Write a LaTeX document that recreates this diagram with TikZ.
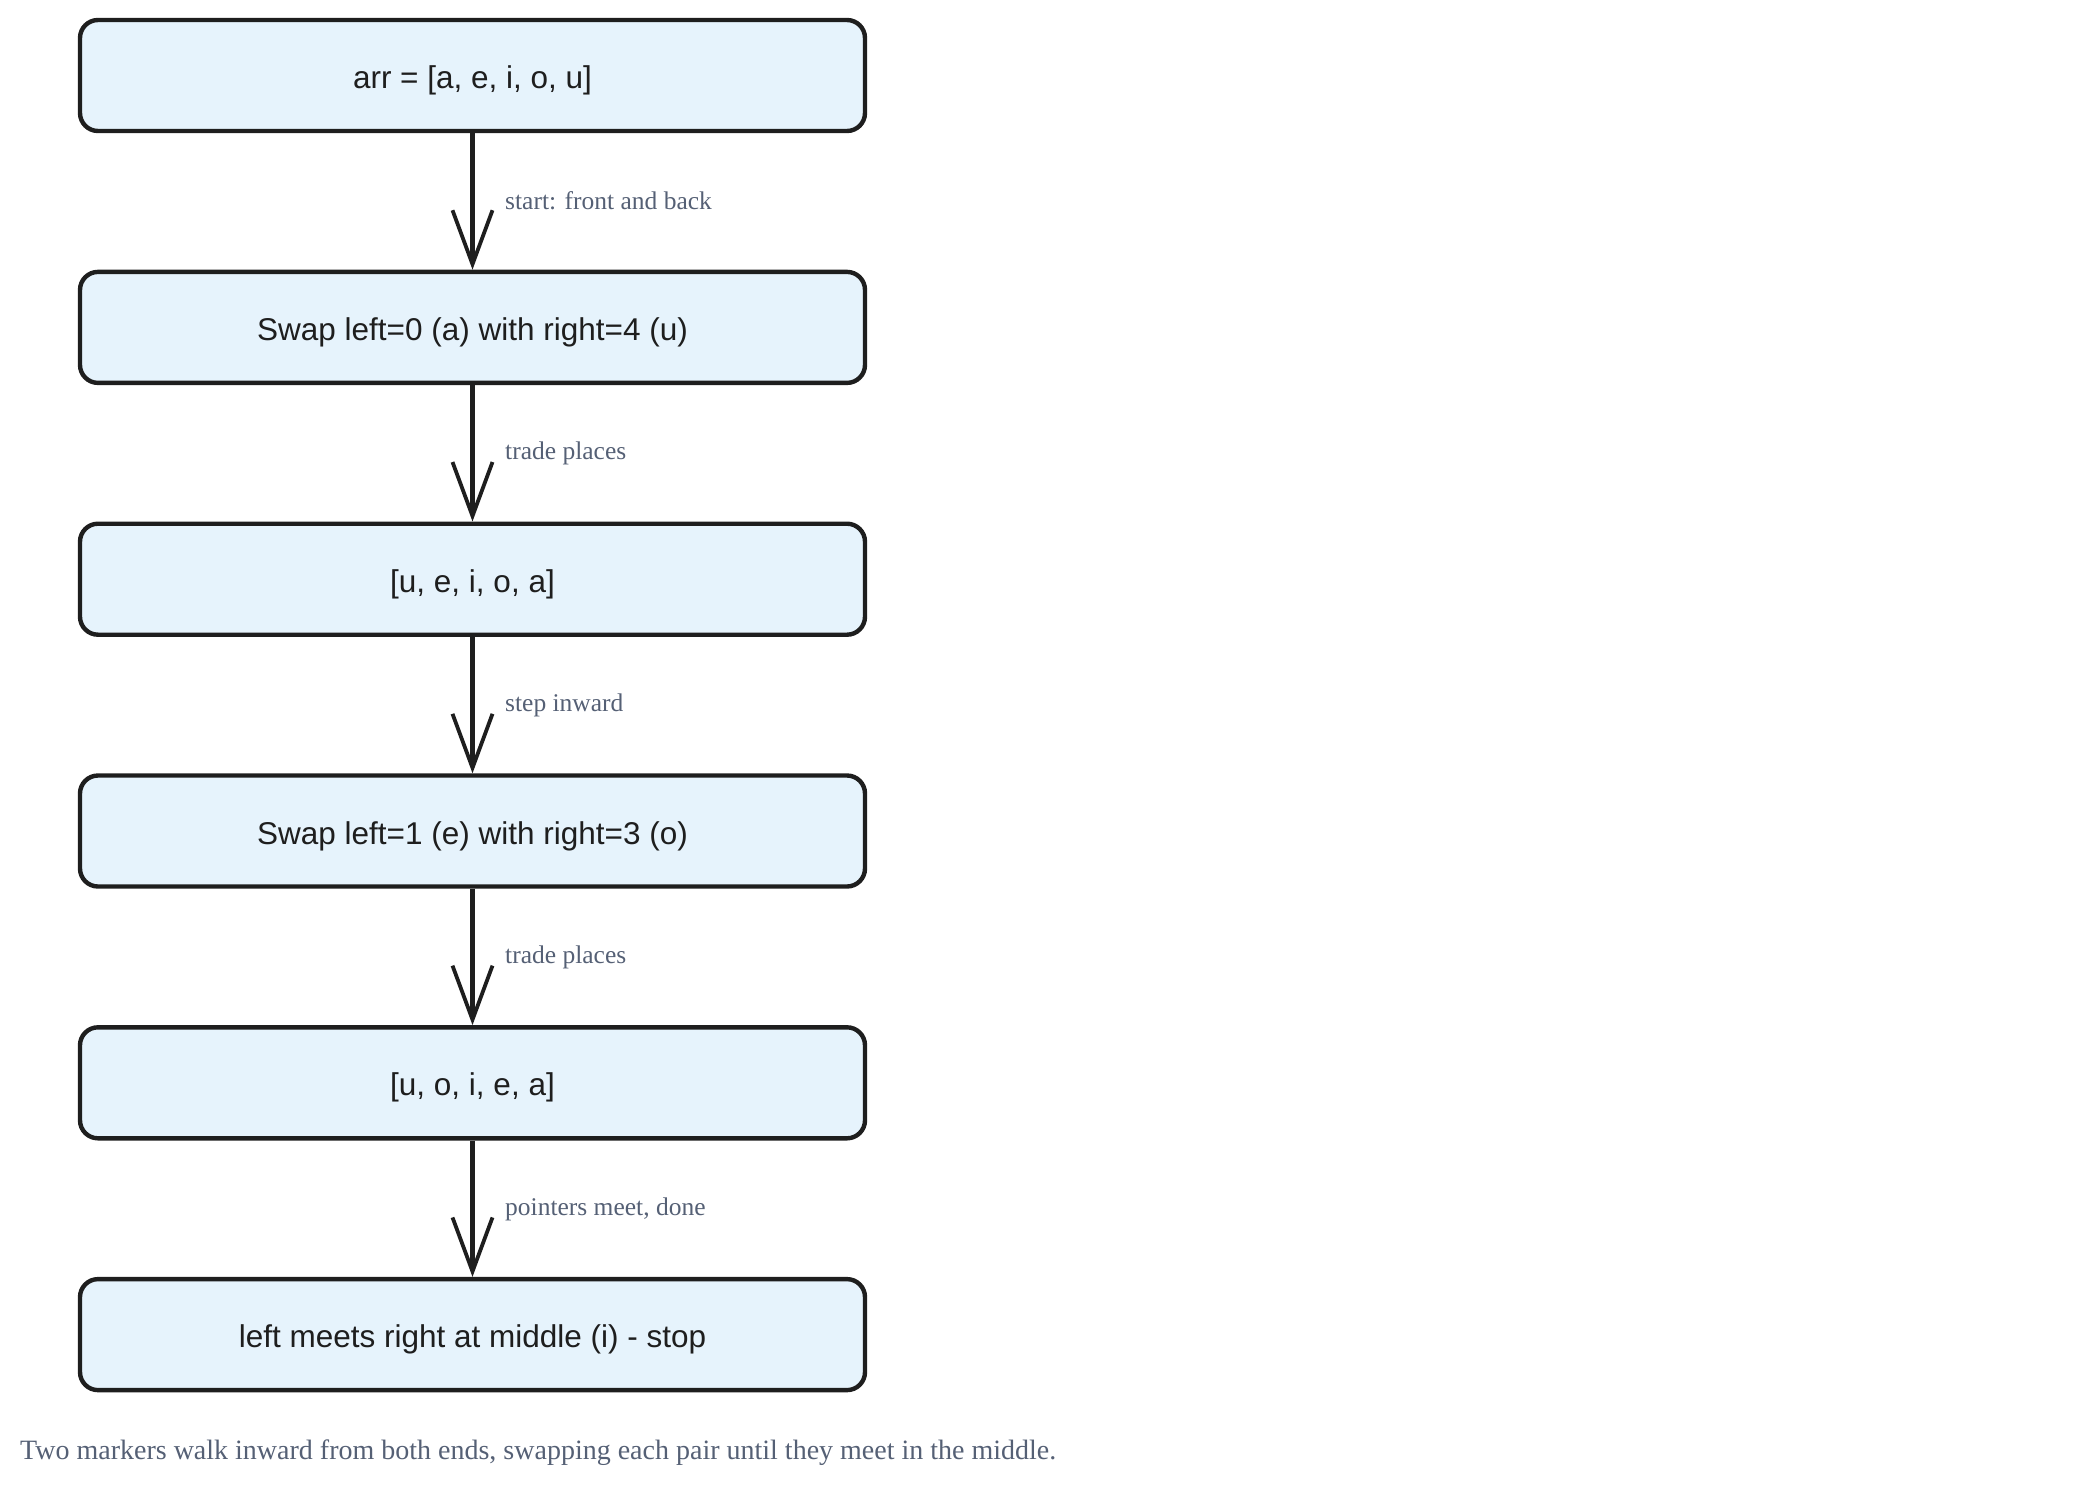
\documentclass[tikz,border=0pt]{standalone}
\usepackage{fontspec}
\setmainfont{Liberation Serif}
\newfontfamily\boxfont{Liberation Sans}
\usetikzlibrary{arrows.meta}
\definecolor{boxfill}{HTML}{E6F3FC}
\definecolor{inkc}{HTML}{1E1E1E}
\definecolor{labelc}{HTML}{556075}
\tikzset{
  stepbox/.style={draw=inkc, fill=boxfill, line width=4.4pt, rounded corners=18pt,
    minimum width=785pt, minimum height=111pt, inner sep=0pt,
    text height=26pt, text depth=0pt,
    font=\boxfont\fontsize{31.5}{36}\selectfont, text=inkc},
  flow/.style={draw=inkc, line width=4.2pt,
    -{Straight Barb[length=54pt,width=40pt,line width=3.8pt]}},
  elabel/.style={font=\fontsize{25.5}{30}\selectfont, text=labelc, anchor=west, inner sep=0pt}
}
\begin{document}
\begin{tikzpicture}[x=1pt,y=-1pt]
\useasboundingbox (0,0) rectangle (2078,1492);
\node[stepbox] (b1) at (472.5,75.5) {arr = [a, e, i, o, u]};
\node[stepbox] (b2) at (472.5,327.4) {Swap left=0 (a) with right=4 (u)};
\node[stepbox] (b3) at (472.5,579.2) {[u, e, i, o, a]};
\node[stepbox] (b4) at (472.5,831) {Swap left=1 (e) with right=3 (o)};
\node[stepbox] (b5) at (472.5,1082.8) {[u, o, i, e, a]};
\node[stepbox] (b6) at (472.5,1334.6) {left meets right at middle (i) - stop};
\draw[flow] (b1) -- (b2);
\draw[flow] (b2) -- (b3);
\draw[flow] (b3) -- (b4);
\draw[flow] (b4) -- (b5);
\draw[flow] (b5) -- (b6);
\node[elabel] (l1) at (505,201) {start: front and back};
\node[elabel] (l2) at (505,453) {trade places};
\node[elabel] (l3) at (505,705) {step inward};
\node[elabel] (l4) at (505,957) {trade places};
\node[elabel] (l5) at (505,1209) {pointers meet, done};
\node[font=\fontsize{28}{32}\selectfont, text=labelc, anchor=west, inner sep=0pt] (cap) at (20,1453) {Two markers walk inward from both ends, swapping each pair until they meet in the middle.};
\end{tikzpicture}
\end{document}
